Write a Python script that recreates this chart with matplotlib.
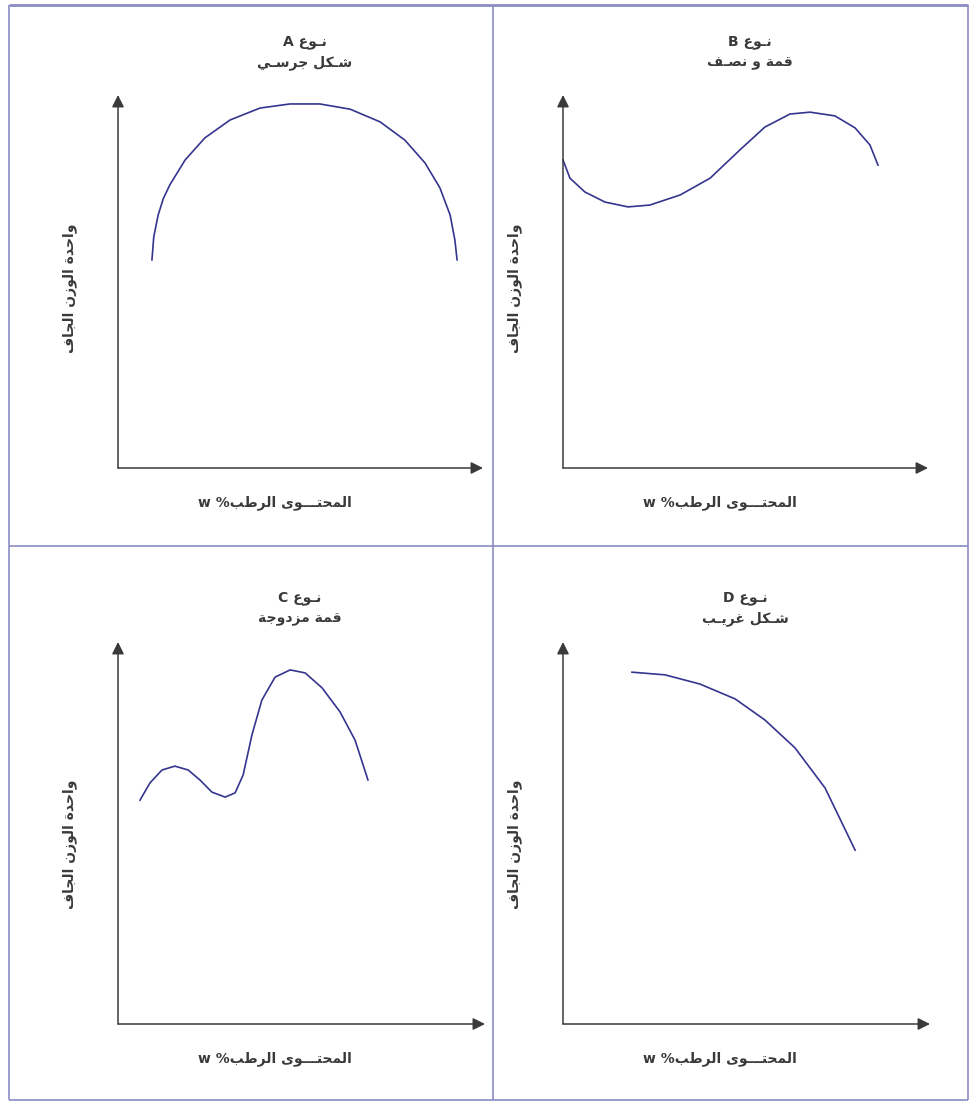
"""Four compaction-curve types (A-D) drawn as hand-styled sketches in a 2x2 framed grid."""
import matplotlib
matplotlib.use("Agg")
import matplotlib.pyplot as plt

plt.rcParams["font.family"] = ["DejaVu Sans"]

W, H = 971, 1102
INK = "#3a3a3a"; CURVE = "#35358f"; FRAME = "#8c8cc4"

# --- data (axis units 0..100 from the origin) ---
A_X = [9.3, 9.8, 11.0, 12.4, 14.2, 18.4, 23.8, 30.7, 38.9, 47.1, 55.3, 63.6, 71.8, 78.6, 84.1, 88.2, 91.0, 92.3, 92.9]
A_Y = [55.8, 62.0, 67.8, 72.2, 75.9, 82.6, 88.5, 93.3, 96.5, 97.6, 97.6, 96.2, 92.8, 87.9, 81.8, 75.1, 67.8, 61.1, 55.8]
B_X = [0.0, 1.9, 6.0, 11.5, 17.8, 23.8, 32.1, 40.3, 48.5, 55.3, 62.2, 67.7, 74.5, 80.0, 84.1, 86.3]
B_Y = [82.6, 77.7, 74.0, 71.3, 70.0, 70.5, 73.2, 77.7, 85.3, 91.4, 94.9, 95.4, 94.4, 91.2, 86.6, 81.2]
C_X = [6.0, 8.7, 12.0, 15.5, 19.1, 22.3, 25.6, 29.2, 31.9, 34.1, 36.5, 39.2, 42.8, 46.9, 51.0, 55.6, 60.5, 64.6, 68.1]
C_Y = [58.6, 63.1, 66.5, 67.5, 66.5, 63.9, 60.7, 59.4, 60.5, 65.2, 75.7, 84.8, 90.8, 92.7, 91.9, 88.0, 81.7, 74.3, 63.9]
D_X = [18.8, 27.8, 37.3, 46.9, 55.0, 63.2, 71.4, 79.6]
D_Y = [92.1, 91.4, 89.0, 85.1, 79.6, 72.3, 61.8, 45.5]

TYPES = ["A", "B", "C", "D"]
SUBTITLES = ["شـكل جرسـي", "قمة و نصـف", "قمة مزدوجة", "شـكل غريـب"]
TYPE_WORD = "نـوع"
X_LABEL = "المحتـــوى الرطب"
Y_LABEL = "واحدة الوزن الجاف"

# minimal Arabic shaping: (isolated, final, initial, medial)
FORMS = {
    "ا": ("\uFE8D", "\uFE8E", None, None), "ب": ("\uFE8F", "\uFE90", "\uFE91", "\uFE92"),
    "ة": ("\uFE93", "\uFE94", None, None), "ت": ("\uFE95", "\uFE96", "\uFE97", "\uFE98"),
    "ج": ("\uFE9D", "\uFE9E", "\uFE9F", "\uFEA0"), "ح": ("\uFEA1", "\uFEA2", "\uFEA3", "\uFEA4"),
    "د": ("\uFEA9", "\uFEAA", None, None), "ر": ("\uFEAD", "\uFEAE", None, None),
    "ز": ("\uFEAF", "\uFEB0", None, None), "س": ("\uFEB1", "\uFEB2", "\uFEB3", "\uFEB4"),
    "ش": ("\uFEB5", "\uFEB6", "\uFEB7", "\uFEB8"), "ص": ("\uFEB9", "\uFEBA", "\uFEBB", "\uFEBC"),
    "ط": ("\uFEC1", "\uFEC2", "\uFEC3", "\uFEC4"), "ع": ("\uFEC9", "\uFECA", "\uFECB", "\uFECC"),
    "غ": ("\uFECD", "\uFECE", "\uFECF", "\uFED0"), "ف": ("\uFED1", "\uFED2", "\uFED3", "\uFED4"),
    "ق": ("\uFED5", "\uFED6", "\uFED7", "\uFED8"), "ك": ("\uFED9", "\uFEDA", "\uFEDB", "\uFEDC"),
    "ل": ("\uFEDD", "\uFEDE", "\uFEDF", "\uFEE0"), "م": ("\uFEE1", "\uFEE2", "\uFEE3", "\uFEE4"),
    "ن": ("\uFEE5", "\uFEE6", "\uFEE7", "\uFEE8"), "ه": ("\uFEE9", "\uFEEA", "\uFEEB", "\uFEEC"),
    "و": ("\uFEED", "\uFEEE", None, None), "ى": ("\uFEEF", "\uFEF0", None, None),
    "ي": ("\uFEF1", "\uFEF2", "\uFEF3", "\uFEF4"),
}
TATWEEL = "\u0640"


def shape(text):
    """Join letters and return them in visual (left-to-right) order."""
    def dual(c):
        return c == TATWEEL or (c in FORMS and FORMS[c][2] is not None)
    out = []
    for i, ch in enumerate(text):
        if ch not in FORMS:
            out.append(ch); continue
        prev = text[i - 1] if i > 0 else ""
        nxt = text[i + 1] if i + 1 < len(text) else ""
        jp = dual(prev)
        jn = FORMS[ch][2] is not None and (nxt in FORMS or nxt == TATWEEL)
        iso, fin, ini, med = FORMS[ch]
        out.append(med if (jp and jn) else fin if jp else ini if jn else iso)
    return "".join(reversed(out))


fig = plt.figure(figsize=(W / 100, H / 100), dpi=100)
bg = fig.add_axes([0, 0, 1, 1]); bg.set_xlim(0, W); bg.set_ylim(H, 0); bg.axis("off")

# frame and dividers
for xs, ys, lw in [([9, 9], [5, 1100], 1.2), ([968, 968], [5, 1100], 1.2), ([9, 968], [5, 5], 2.0),
                   ([9, 968], [1100, 1100], 1.2), ([493, 493], [5, 1100], 1.2), ([9, 968], [546, 546], 1.2)]:
    bg.plot(xs, ys, color=FRAME, lw=lw, solid_capstyle="butt")

# panel boxes in pixels: (left, origin_y, width, height), plus text anchors
PANELS = [(118, 468, 365, 373), (563, 468, 365, 373), (118, 1024, 367, 382), (563, 1024, 367, 382)]
TITLE_X = [305, 750, 300, 745]
LABEL_X = [275, 720, 275, 720]
YLAB_X = [70, 515, 70, 515]
SERIES = [(A_X, A_Y), (B_X, B_Y), (C_X, C_Y), (D_X, D_Y)]
TXT = dict(ha="center", va="center", fontsize=10, color=INK, fontweight="bold")

for k, ((l, oy, w, h), (xs, ys)) in enumerate(zip(PANELS, SERIES)):
    ax = fig.add_axes([l / W, (H - oy) / H, w / W, h / H])
    ax.set_xlim(0, 100); ax.set_ylim(0, 100); ax.axis("off")
    arrow = dict(arrowstyle="-|>", color=INK, lw=1.1, mutation_scale=18, shrinkA=0, shrinkB=0)
    ax.annotate("", xy=(0, 100), xytext=(0, 0), arrowprops=arrow)
    ax.annotate("", xy=(100, 0), xytext=(0, 0), arrowprops=arrow)
    ax.plot(xs, ys, color=CURVE, lw=1.2, clip_on=False)

    top = 42 if k < 2 else 598
    bg.text(TITLE_X[k], top, TYPES[k] + " " + shape(TYPE_WORD), **TXT)
    bg.text(TITLE_X[k], top + 21, shape(SUBTITLES[k]), **TXT)
    bg.text(LABEL_X[k], oy + 35, "w %" + shape(X_LABEL), **TXT)
    bg.text(YLAB_X[k], oy - 180, shape(Y_LABEL), rotation=90, **TXT)

fig.savefig("out.png", dpi=100, facecolor="white")
